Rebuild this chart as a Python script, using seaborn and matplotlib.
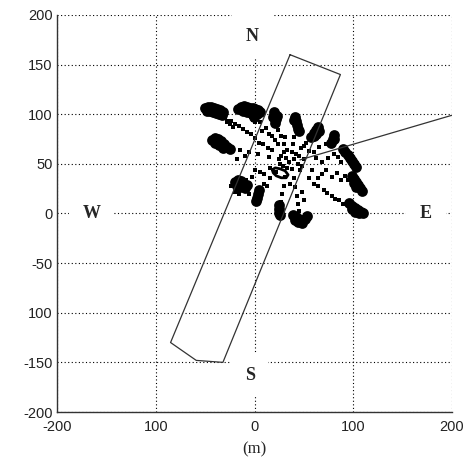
import matplotlib
matplotlib.use("Agg")
import matplotlib.pyplot as plt
import pandas as pd
import seaborn as sns

# ---- data -------------------------------------------------------------
# dense clusters (blobs)
blob_x = [-50, -47, -44, -41, -38, -35, -32, -48, -45, -42, -39, -36, -33,
          -17, -14, -11, -8, -5, -2, 1, 4, 6, -12, -8, -4, 0, 3, -1,
          20, 21, 22, 21, 19, 23,
          41, 42, 43, 44, 45, 40,
          64, 62, 60, 57, 65, 60, 62,
          80, 79, 77, 81,
          90, 92, 95, 97, 99, 101, 103,
          99, 101, 103, 105, 107, 109, 103, 101,
          96, 99, 102, 105, 108, 110, 106, 102, 99,
          39, 42, 45, 48, 51, 53, 44, 48, 41,
          25, 25, 25, 26,
          5, 4, 3, 2,
          -20, -17, -14, -12, -18, -15, -10, -8,
          -43, -40, -37, -34, -31, -28, -25, -40, -36, -32]
blob_y = [106, 107, 107, 106, 105, 104, 102, 103, 103, 102, 101, 100, 99,
          105, 107, 108, 107, 106, 106, 105, 104, 102, 103, 102, 101, 101, 100, 97,
          102, 99, 95, 91, 97, 98,
          97, 93, 89, 85, 83, 94,
          87, 84, 81, 77, 83, 78, 80,
          79, 75, 71, 75,
          65, 62, 59, 56, 53, 50, 47,
          38, 35, 32, 29, 26, 23, 27, 31,
          11, 8, 6, 4, 2, 0, 0, 2, 5,
          -2, -4, -6, -7, -6, -3, -9, -10, -7,
          9, 5, 1, -2,
          24, 20, 16, 13,
          32, 34, 33, 30, 28, 27, 26, 29,
          74, 76, 75, 73, 70, 67, 65, 71, 69, 66]

# scattered single detections
dot_x = [27, 18, 9, 0, -8, -16, -24, -20, -12, -28, -22, 5, 14, -4, -30, -27, -25,
         30, 24, 18, 12, 6, 8, 21, 15, -4, -2, 0,
         33, 30, 27, 24, 31,
         38, 39, 40,
         42, 47, 52, 56, 50,
         45, 55, 65, 72, 60,
         50, 62, 74, 85, 68, 80, 88,
         48, 58, 68, 78, 88, 95, 72, 84, 64, 92,
         46, 55, 64, 73, 82, 90, 70, 78, 86, 60,
         38, 40, 41, 43, 44, 45, 48, 50, 36,
         33, 31, 30, 28, 27,
         29, 22, 16, 10, 6, 13,
         26, 16, 6, -3, -9, 10, 0,
         25, 15, 4, -6, -15, -24, -10, -18,
         -20, -16, -6, -24,
         35, 40, 32, 44]
dot_y = [58, 64, 70, 76, 82, 88, 93, 90, 85, 92, 87, 71, 66, 80, 96, 93, 90,
         62, 70, 78, 86, 92, 83, 74, 80, 97, 94, 92,
         64, 70, 78, 84, 77,
         62, 70, 77,
         60, 66, 71, 75, 68,
         58, 63, 67, 70, 62,
         55, 56, 56, 57, 52, 60, 52,
         48, 44, 40, 37, 34, 34, 44, 41, 36, 38,
         44, 36, 28, 21, 15, 10, 24, 18, 14, 30,
         45, 36, 27, 18, 10, 3, 22, 14, 30,
         46, 37, 28, 20, 12,
         48, 42, 36, 30, 24, 28,
         50, 46, 42, 37, 34, 40, 44,
         55, 57, 60, 62, 64, 67, 58, 55,
         22, 20, 20, 28,
         52, 55, 56, 50]

# ring-shaped track
ring_x = [18, 21, 26, 31, 34, 32, 27, 22, 19, 18]
ring_y = [44, 46, 45, 43, 39, 36, 36, 38, 41, 44]

# radar footprint outline and beam line
footprint_x = [36, 87, -32, -59, -85, 36]
footprint_y = [160, 140, -150, -148, -130, 160]
beam_x = [46, 200]
beam_y = [54, 99]

xticks = [-200, -100, 0, 100, 200]
xtick_labels = ["-200", "100", "0", "100", "200"]
yticks = [-200, -150, -100, -50, 0, 50, 100, 150, 200]
ytick_labels = ["-200", "-150", "100", "-50", "0", "50", "100", "150", "200"]

compass = ["N", "S", "W", "E"]
compass_x = [-2.5, -4.6, -164.6, 173.7]
compass_y = [178, -163, 0.5, 0.5]

# ---- plot --------------------------------------------------------------
sns.set_style("white")
plt.rcParams["font.family"] = ["Liberation Sans", "DejaVu Sans"]

fig = plt.figure(figsize=(4.71, 4.59), dpi=100)
ax = fig.add_axes([57 / 471, 1 - 412 / 459, 395 / 471, 397 / 459])

blobs = pd.DataFrame({"x": blob_x, "y": blob_y})
dots = pd.DataFrame({"x": dot_x, "y": dot_y})
ring = pd.DataFrame({"x": ring_x, "y": ring_y})
foot = pd.DataFrame({"x": footprint_x, "y": footprint_y})
beam = pd.DataFrame({"x": beam_x, "y": beam_y})

sns.scatterplot(data=blobs, x="x", y="y", ax=ax, color="black", s=60,
                marker="o", linewidth=0, zorder=5)
sns.scatterplot(data=dots, x="x", y="y", ax=ax, color="black", s=6,
                marker="s", linewidth=0, zorder=5)
sns.lineplot(data=ring, x="x", y="y", ax=ax, sort=False, estimator=None,
             color="black", lw=2.0, zorder=5)
sns.lineplot(data=foot, x="x", y="y", ax=ax, sort=False, estimator=None,
             color="#333333", lw=0.9, zorder=6)
sns.lineplot(data=beam, x="x", y="y", ax=ax, sort=False, estimator=None,
             color="#333333", lw=0.9, zorder=6)

ax.set_xlim(-200, 200)
ax.set_ylim(-200, 200)
ax.set_xticks(xticks)
ax.set_xticklabels(xtick_labels)
ax.set_yticks(yticks)
ax.set_yticklabels(ytick_labels)
ax.tick_params(axis="both", direction="in", length=3, labelsize=10.5,
               colors="#222222")
ax.tick_params(axis="x", pad=6)
ax.tick_params(axis="y", pad=3)
ax.grid(True, color="black", linestyle=(0, (1, 2.2)), linewidth=0.8)
ax.set_axisbelow(True)

for side in ["top", "right"]:
    ax.spines[side].set_visible(False)
for side in ["left", "bottom"]:
    ax.spines[side].set_color("#333333")
    ax.spines[side].set_linewidth(1.0)

ax.set_xlabel("(m)", fontsize=12, family=["Liberation Serif", "DejaVu Serif"],
              labelpad=5)
ax.set_ylabel("")

for lab, cx, cy in zip(compass, compass_x, compass_y):
    ax.text(cx, cy, lab, ha="center", va="center", fontsize=13,
            fontweight="bold", family=["Liberation Serif", "DejaVu Serif"],
            bbox=dict(boxstyle="square,pad=0.75", facecolor="white",
                      edgecolor="none"), zorder=4)

fig.savefig("out.png", dpi=100)
